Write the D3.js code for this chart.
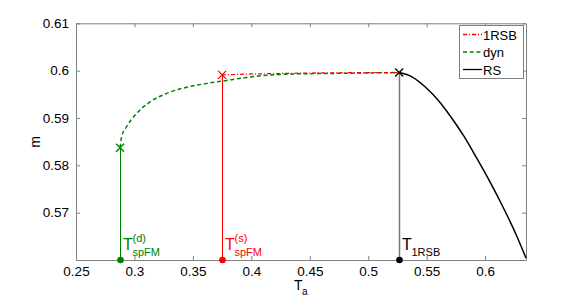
<!DOCTYPE html>
<html>
<head>
<meta charset="utf-8">
<script src="https://cdn.jsdelivr.net/npm/d3@7"></script>
<style>
  body { margin: 0; background: #fff; }
  text { font-family: "Liberation Sans", Arial, sans-serif; }
</style>
</head>
<body>
<svg id="canvas" width="581" height="299"></svg>
<script>
// data
let xTicks = [0.25, 0.3, 0.35, 0.4, 0.45, 0.5, 0.55, 0.6]
let yTicks = [0.57, 0.58, 0.59, 0.6, 0.61]

let dynT = [0.2877, 0.2891, 0.2934, 0.3020, 0.3134, 0.3277, 0.3448, 0.3619, 0.3753, 0.4075, 0.4360, 0.4646, 0.4950, 0.5265]
let dynM = [0.5837, 0.5861, 0.5882, 0.5910, 0.5934, 0.5952, 0.5965, 0.5973, 0.5978, 0.5989, 0.5993, 0.5994, 0.5995, 0.5996]

let rsbT = [0.375, 0.40, 0.45, 0.50, 0.5265]
let rsbM = [0.5991, 0.5993, 0.5995, 0.5996, 0.5996]

let rsT = [0.5265, 0.5375, 0.5486, 0.5597, 0.5708, 0.5820, 0.5931, 0.6042, 0.6153, 0.6265, 0.635]
let rsM = [0.5996, 0.5987, 0.5966, 0.5938, 0.5902, 0.5861, 0.5814, 0.5765, 0.5712, 0.5654, 0.5604]

let marks = [
  { t: 0.2877, m: 0.5837, color: '#008000', sup: '(d)', sub: 'spFM', line: '#008000', w: 1 },
  { t: 0.375, m: 0.5991, color: '#ff0000', sup: '(s)', sub: 'spFM', line: '#ff0000', w: 1 },
  { t: 0.5265, m: 0.5996, color: '#000000', sup: '', sub: '1RSB', line: '#777777', w: 1.5 }
]

let canvas = d3.select('#canvas')

let padLeft = 76, padRight = 526, padTop = 23.3, padBottom = 260

let x = d3.scaleLinear().domain([0.25, 0.635]).range([padLeft, padRight])
let y = d3.scaleLinear().domain([0.56, 0.61]).range([padBottom, padTop])

let line = d3.line().x(d => x(d[0])).y(d => y(d[1]))
let smooth = d3.line().curve(d3.curveMonotoneX).x(d => x(d[0])).y(d => y(d[1]))
let zip = (a, b) => a.map((v, i) => [v, b[i]])

// frame and ticks (matlab style, inward on all sides)
let axisColor = '#808080'
canvas.append('g').attr('transform', `translate(0,${padBottom})`)
  .call(d3.axisBottom(x).tickValues(xTicks).tickSizeInner(-4).tickSizeOuter(0).tickPadding(6).tickFormat(d3.format('')))
canvas.append('g').attr('transform', `translate(0,${padTop})`)
  .call(d3.axisTop(x).tickValues(xTicks).tickSizeInner(-4).tickSizeOuter(0).tickFormat(''))
canvas.append('g').attr('transform', `translate(${padLeft},0)`)
  .call(d3.axisLeft(y).tickValues(yTicks).tickSizeInner(-4).tickSizeOuter(0).tickPadding(7).tickFormat(d3.format('')))
canvas.append('g').attr('transform', `translate(${padRight},0)`)
  .call(d3.axisRight(y).tickValues(yTicks).tickSizeInner(-4).tickSizeOuter(0).tickFormat(''))

canvas.selectAll('.domain').attr('stroke', axisColor)
canvas.selectAll('.tick line').attr('stroke', axisColor)
canvas.selectAll('.tick text').attr('fill', '#000').style('font-size', '13.5px')

// vertical lines down to the axis
canvas.selectAll('.vline')
  .data(marks)
  .enter()
  .append('line')
  .attr('x1', d => Math.round(x(d.t)) + 0.5)
  .attr('x2', d => Math.round(x(d.t)) + 0.5)
  .attr('y1', d => y(d.m))
  .attr('y2', y(0.56))
  .attr('stroke', d => d.line)
  .attr('stroke-width', d => d.w)

// curves
canvas.append('path')
  .attr('d', smooth(zip(rsT, rsM)))
  .attr('fill', 'none').attr('stroke', '#000').attr('stroke-width', 1.5)

canvas.append('path')
  .attr('d', smooth(zip(dynT, dynM)))
  .attr('fill', 'none').attr('stroke', '#008000').attr('stroke-width', 1.5)
  .attr('stroke-dasharray', '4,2.7')

canvas.append('path')
  .attr('d', line(zip(rsbT, rsbM)))
  .attr('fill', 'none').attr('stroke', '#ff0000').attr('stroke-width', 1.2)
  .attr('stroke-dasharray', '4,2,1,2')

// cross markers
canvas.selectAll('.cross')
  .data(marks)
  .enter()
  .append('path')
  .attr('d', d => {
    let cx = x(d.t), cy = y(d.m), s = 4
    return `M${cx - s},${cy - s}L${cx + s},${cy + s}M${cx - s},${cy + s}L${cx + s},${cy - s}`
  })
  .attr('stroke', d => d.color)
  .attr('stroke-width', 1.3)

// dots on the axis
canvas.selectAll('.dot')
  .data(marks)
  .enter()
  .append('circle')
  .attr('cx', d => Math.round(x(d.t)) + 0.5)
  .attr('cy', y(0.56))
  .attr('r', 3.3)
  .attr('fill', d => d.color)

// temperature labels
marks.forEach(d => {
  let px = Math.round(x(d.t)) + 3
  canvas.append('text').attr('x', px).attr('y', 250)
    .attr('fill', d.color).style('font-size', '16px').text('T')
  if (d.sup) {
    canvas.append('text').attr('x', px + 9.5).attr('y', 242)
      .attr('fill', d.color).style('font-size', '11px').text(d.sup)
  }
  canvas.append('text').attr('x', px + 9.5).attr('y', 256)
    .attr('fill', d.color).style('font-size', '11px').text(d.sub)
})

// axis labels
canvas.append('text').attr('x', 294).attr('y', 290).style('font-size', '14px').text('T')
canvas.append('text').attr('x', 302).attr('y', 295).style('font-size', '10px').text('a')
canvas.append('text')
  .attr('transform', 'translate(40,142) rotate(-90)')
  .attr('text-anchor', 'middle')
  .style('font-size', '14px').text('m')

// legend
let legend = canvas.append('g')
legend.append('rect')
  .attr('x', 459.5).attr('y', 25.5).attr('width', 64).attr('height', 53)
  .attr('fill', '#fff').attr('stroke', axisColor)

let legendItems = [
  { name: '1RSB', color: '#ff0000', dash: '4,2,1,2' },
  { name: 'dyn', color: '#008000', dash: '4,2.7' },
  { name: 'RS', color: '#000', dash: null }
]

legend.selectAll('.item')
  .data(legendItems)
  .enter()
  .append('line')
  .attr('x1', 463).attr('x2', 482)
  .attr('y1', (d, i) => 34.5 + i * 17.5)
  .attr('y2', (d, i) => 34.5 + i * 17.5)
  .attr('stroke', d => d.color)
  .attr('stroke-width', 1.3)
  .attr('stroke-dasharray', d => d.dash)

legend.selectAll('.label')
  .data(legendItems)
  .enter()
  .append('text')
  .attr('x', 483)
  .attr('y', (d, i) => 39.5 + i * 17.5)
  .style('font-size', '13px')
  .text(d => d.name)
</script>
</body>
</html>
